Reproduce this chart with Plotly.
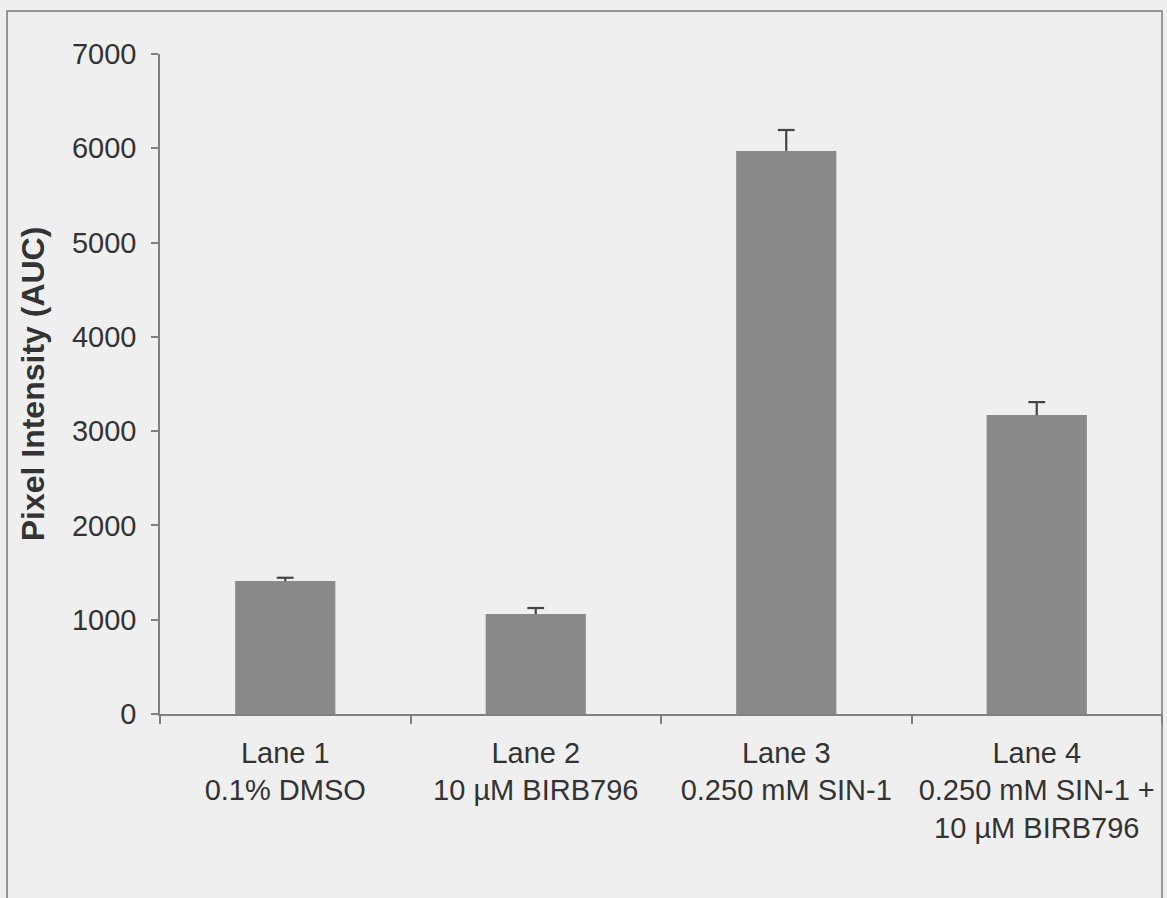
import plotly.graph_objects as go

categories = [
    "Lane 1<br>0.1% DMSO",
    "Lane 2<br>10 µM BIRB796",
    "Lane 3<br>0.250 mM SIN-1",
    "Lane 4<br>0.250 mM SIN-1 +<br>10 µM BIRB796",
]
values = [1410, 1060, 5972, 3170]
errors = [35, 64, 222, 138]
y_ticks = [0, 1000, 2000, 3000, 4000, 5000, 6000, 7000]

W, H = 1167, 898
L, R, T, B = 160, 5, 54, 183.5
pw = W - L - R
ph = H - T - B

err_color = "#444444"
fig = go.Figure()
fig.add_trace(go.Bar(
    x=categories,
    y=values,
    marker=dict(color="#898989", line=dict(width=0)),
    error_y=dict(type="data", array=errors, symmetric=False, arrayminus=[0] * 4,
                 color=err_color, thickness=2.2, width=0),
    width=0.4,
))
# upper caps only (as in the reference)
fig.add_trace(go.Scatter(
    x=categories,
    y=[v + e for v, e in zip(values, errors)],
    mode="markers",
    marker=dict(symbol="line-ew", size=12, line=dict(color=err_color, width=2.2)),
    hoverinfo="skip",
))

font_family = "Liberation Sans, Arial, sans-serif"
fig.update_layout(
    width=W, height=H,
    margin=dict(l=L, r=R, t=T, b=B),
    paper_bgcolor="#efefef",
    plot_bgcolor="#efefef",
    font=dict(family=font_family, size=29, color="#333333"),
    showlegend=False,
    bargap=0.6,
)
fig.update_yaxes(
    range=[0, 7000],
    tickvals=y_ticks,
    ticktext=[str(v) for v in y_ticks],
    showgrid=False,
    zeroline=False,
    showline=True,
    linecolor="#808080",
    linewidth=1.5,
    ticks="outside",
    ticklen=7,
    tickcolor="#808080",
    tickwidth=1.5,
    tickfont=dict(size=29, color="#333333"),
    ticklabelstandoff=9,
    title=dict(text="<b>Pixel Intensity (AUC)</b>", font=dict(size=32, color="#333333"), standoff=18),
)
fig.update_xaxes(
    showgrid=False,
    showline=True,
    linecolor="#808080",
    linewidth=1.5,
    ticks="outside",
    tickson="boundaries",
    ticklen=8,
    tickcolor="#808080",
    tickwidth=1.5,
    tickfont=dict(size=29, color="#333333"),
    ticklabelstandoff=12,
)
# outer frame
fig.add_shape(
    type="rect", xref="paper", yref="paper",
    x0=(7 - L) / pw, x1=1.0,
    y0=(T + ph - (H + 5)) / ph, y1=(T + ph - 11) / ph,
    line=dict(color="#777777", width=1.5),
    fillcolor="rgba(0,0,0,0)",
    layer="below",
)

fig.write_html("out.html")
